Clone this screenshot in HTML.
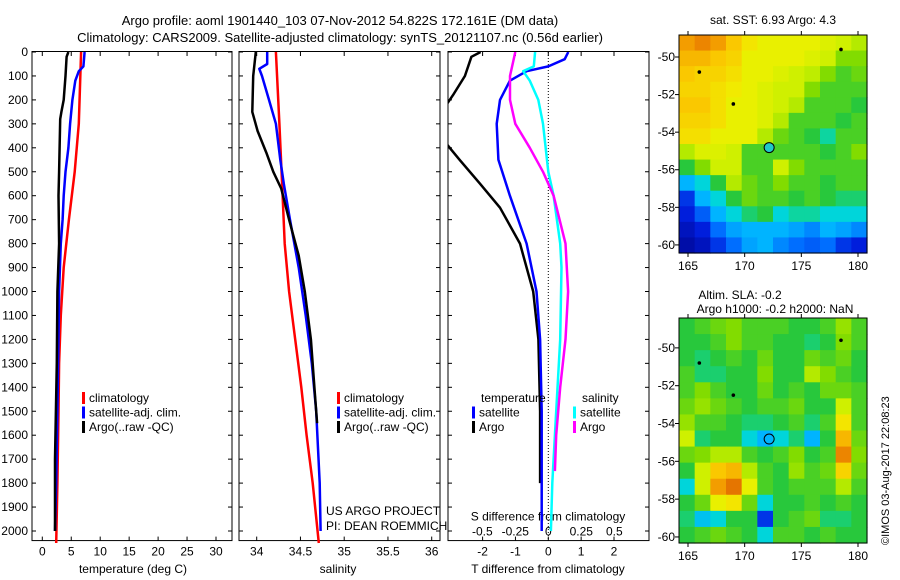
<!DOCTYPE html>
<html><head><meta charset="utf-8">
<style>
html,body{margin:0;padding:0;background:#fff;}
svg{display:block;font-family:"Liberation Sans",Arial,sans-serif;}
text{fill:#000;font-size:12px;}
</style></head>
<body>
<svg id="fig" width="900" height="580" viewBox="0 0 900 580" xmlns="http://www.w3.org/2000/svg">
<text x="340" y="25" text-anchor="middle" style="font-size:13px">Argo profile: aoml 1901440_103 07-Nov-2012 54.822S 172.161E (DM data)</text>
<text x="340" y="42" text-anchor="middle" style="font-size:13px">Climatology: CARS2009. Satellite-adjusted climatology: synTS_20121107.nc (0.56d earlier)</text>
<text x="773" y="24" text-anchor="middle">sat. SST: 6.93 Argo: 4.3</text>
<text x="740" y="299" text-anchor="middle">Altim. SLA: -0.2</text>
<text x="775" y="313" text-anchor="middle">Argo h1000: -0.2 h2000: NaN</text>
<text transform="translate(889,545) rotate(-90)" style="font-size:11px">©IMOS 03-Aug-2017 22:08:23</text>
<g id="g"></g>
</svg>
<script>
// ---------- data ----------
const depthTicks=[0,100,200,300,400,500,600,700,800,900,1000,1100,1200,1300,1400,1500,1600,1700,1800,1900,2000];
const tempTicks=[0,5,10,15,20,25,30];
const salTicks=[34,34.5,35,35.5,36];
const tdiffTicks=[-2,-1,0,1,2];
const sdiffTicks=[-0.5,-0.25,0,0.25,0.5];
const sdiffTickLabels=["-0.5","-0.25","0","0.25","0.5"];

const tClimDepth=[0,300,500,700,900,1100,1300,1500,1800,2050];
const tClim=[6.7,6.3,5.6,4.6,3.7,3.2,2.9,2.8,2.6,2.4];
const tSatDepth=[0,60,80,120,200,300,400,500,600,700,800,1000,1200,1500,1800,2000];
const tSat=[7.3,7.1,6.3,5.7,5.2,4.8,4.5,4.0,3.7,3.5,3.2,2.9,2.8,2.6,2.4,2.2];
const tArgoDepth=[0,20,100,200,250,280,500,600,800,1000,1300,1700,2000];
const tArgo=[4.5,4.2,4.0,3.7,3.3,3.1,2.9,2.8,2.9,2.6,2.5,2.2,2.2];

const sClimDepth=[0,300,550,800,1000,1200,1400,1600,1800,2050];
const sClim=[34.22,34.26,34.29,34.32,34.37,34.44,34.51,34.57,34.64,34.71];
const sSatDepth=[0,50,70,100,200,300,450,550,700,900,1100,1300,1500,1800,2000];
const sSat=[34.12,34.12,34.03,34.06,34.14,34.22,34.27,34.31,34.38,34.48,34.56,34.63,34.68,34.72,34.73];
const sArgoDepth=[0,100,250,330,420,500,570,700,850,1000,1200,1400,1550];
const sArgo=[33.99,33.96,33.95,34.01,34.11,34.19,34.28,34.37,34.48,34.55,34.62,34.66,34.69];

const dTSatDepth=[0,30,60,80,120,200,300,450,600,800,1000,1200,1500,2000];
const dTSat=[0.61,0.5,0,-0.66,-1.17,-1.47,-1.57,-1.52,-1.17,-0.66,-0.36,-0.25,-0.2,-0.2];
const dTArgoDepth=[0,20,100,180,260,330,400,450,550,650,800,1000,1200,1500,1800];
const dTArgo=[-2.06,-2.34,-2.54,-2.9,-3.3,-3.4,-3.0,-2.7,-2.08,-1.47,-0.86,-0.46,-0.3,-0.25,-0.25];
const dSSatDepth=[0,60,80,120,200,300,500,600,800,900,1200,1500,1800,2000];
const dSSat=[-0.1,-0.11,-0.19,-0.14,-0.076,-0.04,0,0.04,0.09,0.1,0.09,0.06,0.03,0.02];
const dSArgoDepth=[0,100,200,300,400,500,600,800,1000,1200,1400,1600,1750];
const dSArgo=[-0.25,-0.29,-0.29,-0.25,-0.14,-0.04,0.04,0.13,0.15,0.13,0.09,0.06,0.05];

const lonTicks=[165,170,175,180];
const latTicks=[-50,-52,-54,-56,-58,-60];
const sstGrid=[
[.75,.78,.75,.70,.65,.62,.62,.62,.62,.60,.58,.55],
[.72,.72,.70,.68,.62,.62,.62,.62,.60,.58,.50,.50],
[.70,.68,.68,.66,.62,.62,.60,.58,.56,.50,.45,.48],
[.68,.68,.66,.64,.62,.60,.58,.58,.50,.45,.45,.45],
[.70,.70,.66,.62,.62,.60,.58,.55,.45,.45,.45,.42],
[.68,.68,.66,.62,.62,.60,.55,.45,.45,.45,.42,.45],
[.66,.66,.62,.62,.62,.55,.48,.45,.42,.38,.45,.45],
[.55,.60,.60,.58,.45,.45,.45,.45,.45,.42,.45,.50],
[.42,.50,.58,.58,.45,.45,.58,.50,.45,.45,.45,.45],
[.30,.35,.42,.55,.48,.45,.50,.45,.45,.42,.45,.45],
[.15,.30,.35,.42,.48,.45,.45,.42,.45,.42,.40,.40],
[.12,.20,.30,.35,.40,.42,.35,.38,.38,.35,.35,.35],
[.08,.12,.22,.28,.30,.30,.30,.28,.25,.30,.28,.25],
[.05,.08,.15,.22,.28,.30,.25,.22,.20,.22,.15,.12]];
const slaGrid=[
[.42,.45,.48,.50,.45,.45,.45,.42,.42,.45,.52,.45],
[.42,.42,.45,.50,.45,.45,.42,.42,.40,.42,.50,.45],
[.42,.40,.42,.45,.42,.48,.42,.42,.48,.45,.48,.42],
[.45,.40,.40,.42,.42,.50,.42,.42,.55,.50,.45,.42],
[.45,.50,.45,.42,.42,.48,.42,.45,.42,.48,.48,.45],
[.48,.52,.48,.45,.42,.45,.45,.48,.42,.42,.58,.45],
[.52,.45,.45,.42,.40,.40,.42,.45,.40,.45,.65,.45],
[.58,.40,.42,.42,.35,.30,.35,.40,.30,.42,.72,.48],
[.48,.50,.55,.55,.45,.42,.45,.50,.42,.45,.78,.50],
[.42,.58,.70,.72,.55,.45,.42,.52,.45,.48,.68,.48],
[.35,.58,.75,.80,.62,.45,.42,.45,.45,.45,.55,.45],
[.42,.48,.62,.65,.48,.35,.42,.42,.45,.42,.45,.42],
[.40,.32,.35,.42,.42,.15,.42,.45,.48,.40,.40,.42],
[.42,.45,.48,.45,.42,.35,.45,.45,.42,.45,.42,.42]];
const floatLon=[172.16], floatLat=[-54.82];
const otherLon=[166,169,178.5], otherLat=[-50.8,-52.5,-49.6];

// ---------- helpers ----------
const NS="http://www.w3.org/2000/svg";
const G=document.getElementById('g');
function mk(tag,attrs,parent){const e=document.createElementNS(NS,tag);for(const k in attrs)e.setAttribute(k,attrs[k]);(parent||G).appendChild(e);return e;}
const yTop=52, yScale=0.2395;
const yD=d=>yTop+d*yScale;
const linX=(d0,d1,p0,p1)=>v=>p0+(v-d0)*(p1-p0)/(d1-d0);
const cmapStops=[[0,0,0,130],[.12,0,30,220],[.22,0,110,255],[.30,0,180,255],[.36,0,220,210],[.42,40,200,60],[.50,130,220,0],[.57,200,240,0],[.63,240,240,0],[.70,250,200,0],[.77,240,140,0],[.85,210,80,0],[1,150,0,0]];
function cmap(v){v=Math.max(0,Math.min(1,v));
  for(let i=1;i<cmapStops.length;i++){const a=cmapStops[i-1],b=cmapStops[i];
    if(v<=b[0]){const t=(v-a[0])/(b[0]-a[0]);return `rgb(${Math.round(a[1]+t*(b[1]-a[1]))},${Math.round(a[2]+t*(b[2]-a[2]))},${Math.round(a[3]+t*(b[3]-a[3]))})`;}}
  return 'rgb(150,0,0)';}

const yb=yD(2040);
function frame(x0,x1,name){
  const r=mk('rect',{x:x0,y:yTop-0.5,width:x1-x0,height:yb-yTop+0.5,fill:'none',stroke:'#000','stroke-width':1});
  
  
}
function depthTickMarks(x0,x1,labels){
  depthTicks.forEach(d=>{
    const y=yD(d);
    mk('line',{x1:x0,x2:x0+4,y1:y,y2:y,stroke:'#000'});
    mk('line',{x1:x1-4,x2:x1,y1:y,y2:y,stroke:'#000'});
    if(labels){const t=mk('text',{x:x0-4,y:y+4,'text-anchor':'end'});t.textContent=d;
      
      }
  });
}
function xTicks(ticks,xs,labels,name){
  ticks.forEach((v,i)=>{
    const x=xs(v);
    mk('line',{x1:x,x2:x,y1:yb,y2:yb-4,stroke:'#000'});
    mk('line',{x1:x,x2:x,y1:yTop,y2:yTop+4,stroke:'#000'});
    const t=mk('text',{x:x,y:yb+15,'text-anchor':'middle'});t.textContent=labels?labels[i]:v;
    
    
  });
}
function series(depths,vals,xs,color,name,clip){
  const pts=depths.map((d,i)=>xs(vals[i]).toFixed(1)+','+yD(d).toFixed(1)).join(' ');
  const a={points:pts,fill:'none',stroke:color,'stroke-width':2.5,'stroke-linejoin':'round'};
  if(clip)a['clip-path']=clip;
  const p=mk('polyline',a);
  
  
}
function legend(x,y,items){
  items.forEach((it,i)=>{
    mk('rect',{x:x,y:y+i*14.5-10,width:3,height:12,fill:it[1]});
    const t=mk('text',{x:x+7,y:y+i*14.5});t.textContent=it[0];
    
    
  });
}

// ---------- panel 1: temperature ----------
const xT=linX(0,30,42.3,216);
frame(32,232,'temperature-plot-frame');
depthTickMarks(32,232,true);
xTicks(tempTicks,xT,null,'temperature-tick-label');
series(tClimDepth,tClim,xT,'#ff0000','temperature-climatology-line');
series(tSatDepth,tSat,xT,'#0000ff','temperature-satellite-line');
series(tArgoDepth,tArgo,xT,'#000000','temperature-argo-line');
legend(82,402,[['climatology','#ff0000'],['satellite-adj. clim.','#0000ff'],['Argo(..raw -QC)','#000000']]);
{const t=mk('text',{x:133,y:573,'text-anchor':'middle'});t.textContent='temperature (deg C)';

}

// ---------- panel 2: salinity ----------
const xS=linX(34,36,256.7,431.7);
frame(239,440,'salinity-plot-frame');
depthTickMarks(239,440,false);
xTicks(salTicks,xS,null,'salinity-tick-label');
series(sClimDepth,sClim,xS,'#ff0000','salinity-climatology-line');
series(sSatDepth,sSat,xS,'#0000ff','salinity-satellite-line');
series(sArgoDepth,sArgo,xS,'#000000','salinity-argo-line');
legend(337,402,[['climatology','#ff0000'],['satellite-adj. clim.','#0000ff'],['Argo(..raw -QC)','#000000']]);
{const t=mk('text',{x:326,y:515});t.textContent='US ARGO PROJECT';
 const u=mk('text',{x:326,y:530});u.textContent='PI: DEAN ROEMMICH';
 const v=mk('text',{x:338,y:573,'text-anchor':'middle'});v.textContent='salinity';}

// ---------- panel 3: differences ----------
const xDT=linX(0,2,548.3,614);
const xDS=linX(0,0.5,548.3,614.3);
const defs=mk('defs',{});
const cp=mk('clipPath',{id:'c3'},defs);mk('rect',{x:448,y:yTop,width:201,height:yb-yTop},cp);
frame(448,649,'difference-plot-frame');
depthTickMarks(448,649,false);
mk('line',{x1:548.3,x2:548.3,y1:yTop,y2:yb,stroke:'#000','stroke-dasharray':'1,2'});
xTicks(tdiffTicks,xDT,null,'t-difference-tick-label');
sdiffTicks.forEach((v,i)=>{const t=mk('text',{x:xDS(v),y:yb-5,'text-anchor':'middle'});t.textContent=sdiffTickLabels[i];

});
{const t=mk('text',{x:548,y:yb-20,'text-anchor':'middle'});t.textContent='S difference from climatology';
 const u=mk('text',{x:548,y:573,'text-anchor':'middle'});u.textContent='T difference from climatology';}
series(dTArgoDepth,dTArgo,xDT,'#000000','t-difference-argo-line','url(#c3)');
series(dTSatDepth,dTSat,xDT,'#0000ff','t-difference-satellite-line','url(#c3)');
series(dSSatDepth,dSSat,xDS,'#00ffff','s-difference-satellite-line','url(#c3)');
series(dSArgoDepth,dSArgo,xDS,'#ff00ff','s-difference-argo-line','url(#c3)');
{const t=mk('text',{x:481,y:402});t.textContent='temperature';
 const u=mk('text',{x:582,y:402});u.textContent='salinity';}
legend(472,416.5,[['satellite','#0000ff'],['Argo','#000000']]);
legend(573,416.5,[['satellite','#00ffff'],['Argo','#ff00ff']]);

// ---------- maps ----------
function map(grid,top,bottom,latTop,latBot,name,filled){
  const x0=679,x1=867;
  const lonX=linX(165,180,688,858);
  const latY=linX(latTop,latBot,top,bottom);
  const rows=grid.length, cols=grid[0].length, cw=(x1-x0)/cols, ch=(bottom-top)/rows;
  grid.forEach((row,r)=>row.forEach((v,c)=>{
    const e=mk('rect',{x:(x0+c*cw).toFixed(2),y:(top+r*ch).toFixed(2),width:(cw+0.6).toFixed(2),height:(ch+0.6).toFixed(2),fill:cmap(v)});
    
    
  }));
  otherLon.forEach((lo,i)=>{const e=mk('circle',{cx:lonX(lo),cy:latY(otherLat[i]),r:1.8,fill:'#000'});
    
    });
  const m=mk('circle',{cx:lonX(floatLon[0]),cy:latY(floatLat[0]),r:5,fill:filled?'#20c8c8':'none',stroke:'#000','stroke-width':1});
  
  
  const f=mk('rect',{x:x0,y:top,width:x1-x0,height:bottom-top,fill:'none',stroke:'#000'});
  
  
  lonTicks.forEach(lo=>{const x=lonX(lo);
    mk('line',{x1:x,x2:x,y1:top,y2:top-4,stroke:'#000'});
    mk('line',{x1:x,x2:x,y1:bottom,y2:bottom+4,stroke:'#000'});
    const t=mk('text',{x:x,y:bottom+17,'text-anchor':'middle'});t.textContent=lo;
    
    });
  latTicks.forEach(la=>{const y=latY(la);
    mk('line',{x1:x0,x2:x0-4,y1:y,y2:y,stroke:'#000'});
    const t=mk('text',{x:x0-4,y:y+4,'text-anchor':'end'});t.textContent=la;
    
    });
}
map(sstGrid,35,253,-48.83,-60.43,'sst-map',true);
map(slaGrid,318,543,-48.42,-60.32,'sla-map',false);
</script>
</body></html>
